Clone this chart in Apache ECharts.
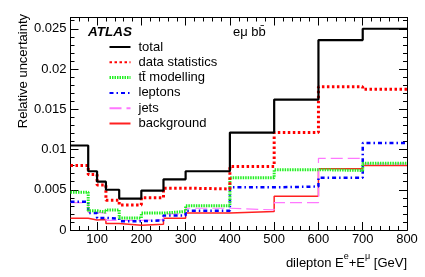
<!DOCTYPE html>
<html><head><meta charset="utf-8">
<script src="https://cdn.jsdelivr.net/npm/echarts@6/dist/echarts.min.js"></script>
<style>html,body{margin:0;padding:0;background:#fff}#c{width:425px;height:277px}</style>
</head><body><div id="c"></div>
<script>
var binEdges = [40,80,100,120,150,200,250,300,400,500,600,700,800];
var totalUnc = [0.0105,0.0073,0.0060,0.0050,0.0039,0.0049,0.0063,0.0073,0.0121,0.0162,0.0236,0.0250];
var dataStat = [0.0080,0.0069,0.0056,0.0037,0.0031,0.0040,0.0052,0.0051,0.0079,0.0121,0.0178,0.0175];
var ttModelling = [0.0047,0.0024,0.0022,0.0025,0.0015,0.0021,0.0023,0.0030,0.0065,0.0075,0.0074,0.0083];
var leptons = [0.0035,0.0021,0.0015,0.0014,0.0011,0.0012,0.0018,0.0024,0.0053,0.0054,0.0065,0.0108];
var jets = [0.0034,0.0022,0.0021,0.0012,0.0012,0.0013,0.0020,0.0027,0.0025,0.0034,0.0089,0.0082];
var background = [0.00145,0.00125,0.0013,0.0008,0.0006,0.0007,0.00145,0.0021,0.0023,0.0042,0.0076,0.0080];
var xMajorTicks = [100,200,300,400,500,600,700,800];
var xMinorTicks = [40,60,80,120,140,160,180,220,240,260,280,320,340,360,380,420,440,460,480,520,540,560,580,620,640,660,680,720,740,760,780];
var yMajorTicks = [0,0.005,0.01,0.015,0.02,0.025];
var yMinorTicks = [0.001,0.002,0.003,0.004,0.006,0.007,0.008,0.009,0.011,0.012,0.013,0.014,0.016,0.017,0.018,0.019,0.021,0.022,0.023,0.024,0.026];

var FONT = 'Liberation Sans, Arial, Helvetica, sans-serif';
function steps(vals){
  var out = [];
  for (var i = 0; i < vals.length; i++){
    out.push([binEdges[i], vals[i]]);
    out.push([binEdges[i+1], vals[i]]);
  }
  return out;
}
var XMIN = 40, XMAX = 800, YMIN = 0, YMAX = 0.0264;
function xAx(pos, ticks, len, labels){
  return {type:'value', position:pos, min:XMIN, max:XMAX, gridIndex:0,
    axisLine:{show:true, onZero:false, lineStyle:{color:'#000', width:1}},
    axisTick:{show:true, inside:true, length:len, customValues:ticks, lineStyle:{color:'#000', width:1}},
    axisLabel:{show:labels, customValues:ticks, margin:3, color:'#000', fontSize:13, fontFamily:FONT},
    splitLine:{show:false}};
}
function yAx(pos, ticks, len, labels){
  return {type:'value', position:pos, min:YMIN, max:YMAX, gridIndex:0,
    axisLine:{show:true, onZero:false, lineStyle:{color:'#000', width:1}},
    axisTick:{show:true, inside:true, length:len, customValues:ticks, lineStyle:{color:'#000', width:1}},
    axisLabel:{show:labels, customValues:ticks, margin:4, color:'#000', fontSize:13, fontFamily:FONT,
      formatter:function(v){return String(+v.toFixed(3));}},
    splitLine:{show:false}};
}
var seriesDefs = [
  {name:'background', vals:background, color:'#ff2020', width:1.5, type:'solid'},
  {name:'jets', vals:jets, color:'#ff77ff', width:1.2, type:[12,5]},
  {name:'leptons', vals:leptons, color:'#0000ff', width:2.5, type:[4,3,1.5,3]},
  {name:'tt\u0304 modelling', vals:ttModelling, color:'#22f022', width:3, type:[1.5,1]},
  {name:'data statistics', vals:dataStat, color:'#ff0000', width:3, type:[2.5,2.5]},
  {name:'total', vals:totalUnc, color:'#000000', width:2.2, type:'solid'}
];
var series = seriesDefs.map(function(d){
  return {name:d.name, type:'line', xAxisIndex:0, yAxisIndex:0, data:steps(d.vals),
    symbol:'none', showSymbol:false, animation:false, silent:true,
    lineStyle:{color:d.color, width:d.width, type:d.type}, itemStyle:{color:d.color}};
});
var chart = echarts.init(document.getElementById('c'), null, {renderer:'canvas'});
chart.setOption({
  animation:false,
  backgroundColor:'#fff',
  grid:{left:70.5, right:18, top:17.5, bottom:47, containLabel:false},
  xAxis:[xAx('bottom', xMajorTicks, 8, true), xAx('bottom', xMinorTicks, 4, false),
         xAx('top', xMajorTicks, 8, false), xAx('top', xMinorTicks, 4, false)],
  yAxis:[yAx('left', yMajorTicks, 8, true), yAx('left', yMinorTicks, 4, false),
         yAx('right', yMajorTicks, 8, false), yAx('right', yMinorTicks, 4, false)],
  legend:{show:true, orient:'vertical', left:108, top:40.5, padding:0, itemGap:2.3,
    itemWidth:21, itemHeight:14, selectedMode:false,
    itemStyle:{opacity:0, borderWidth:0},
    data:['total','data statistics',
      {name:'tt\u0304 modelling', lineStyle:{width:3, type:[1.5,1], color:'#22f022'}},
      'leptons','jets','background'],
    textStyle:{fontSize:13, color:'#000', fontFamily:FONT, padding:[0,0,0,3]}},
  graphic:[
    {type:'text', left:88, top:25, style:{text:'ATLAS', font:'italic bold 13.5px '+FONT, fill:'#000'}},
    {type:'text', left:233, top:26, style:{text:'e\u03bc bb\u0304', font:'13px '+FONT, fill:'#000'}},
    {type:'text', x:23, y:14, rotation:Math.PI/2,
      style:{text:'Relative uncertainty', font:'13px '+FONT, fill:'#000', align:'right', verticalAlign:'middle'}},
    {type:'text', right:18, top:252,
      style:{text:'{n|dilepton E}{s|e}{n|+E}{s|\u03bc}{n| [GeV]}', fill:'#000',
        rich:{n:{fontSize:13, fontFamily:FONT, lineHeight:18, verticalAlign:'bottom'},
              s:{fontSize:9, fontFamily:FONT, lineHeight:18, verticalAlign:'top'}}}}
  ],
  series:series
});
</script></body></html>
